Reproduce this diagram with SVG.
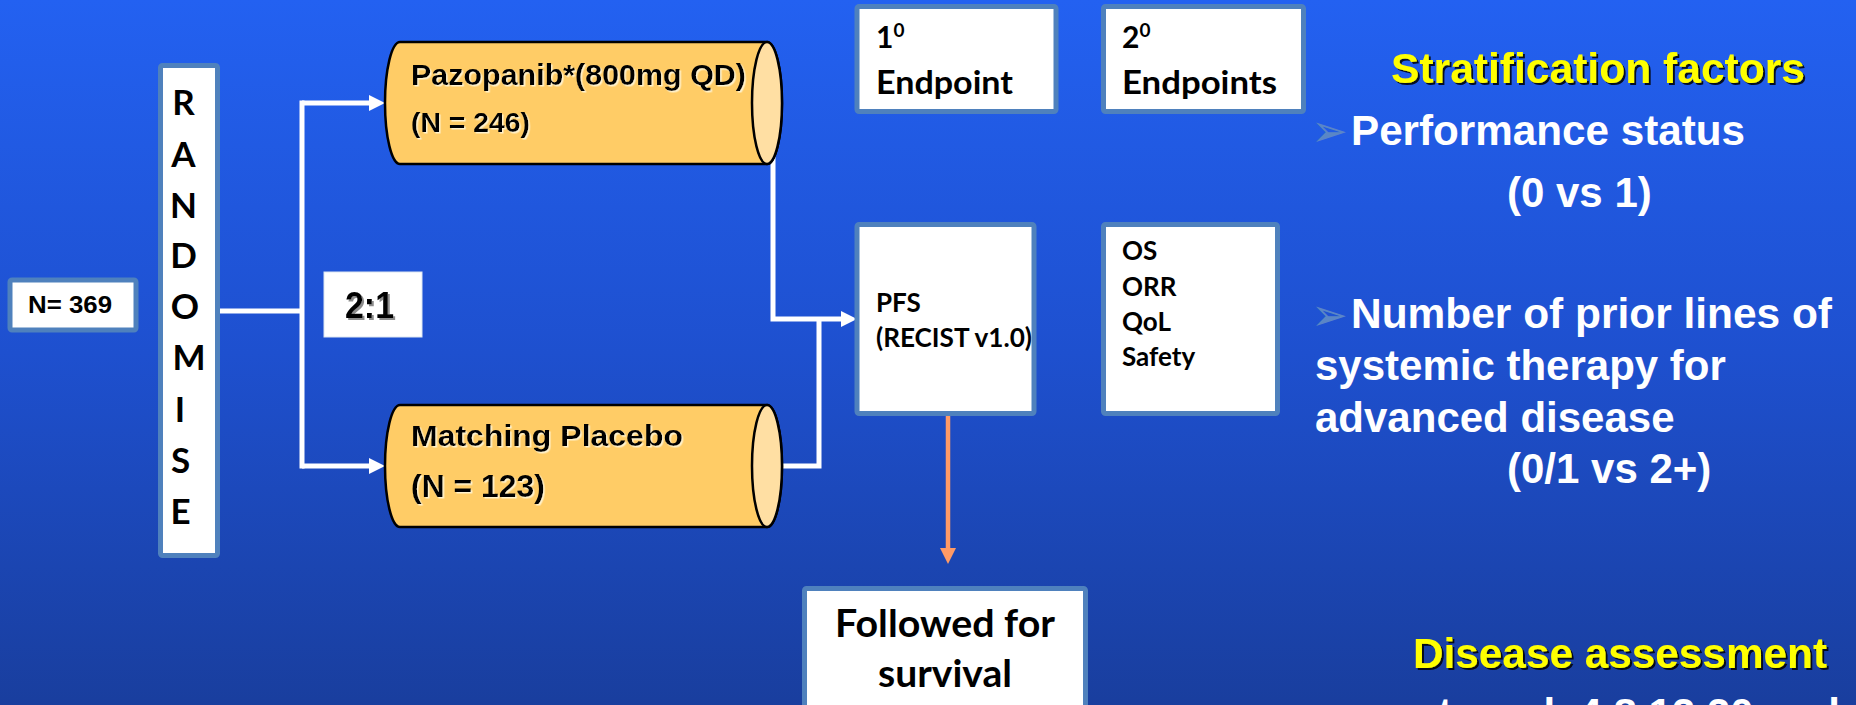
<svg xmlns="http://www.w3.org/2000/svg" width="1856" height="705" viewBox="0 0 1856 705">
<defs>
<linearGradient id="bg" x1="0" y1="0" x2="0" y2="1">
<stop offset="0" stop-color="#2361F1"/>
<stop offset="0.5" stop-color="#1E50CF"/>
<stop offset="1" stop-color="#193E9E"/>
</linearGradient>
<filter id="lightSh" x="-5%" y="-20%" width="110%" height="140%">
<feDropShadow dx="1.5" dy="1.5" stdDeviation="0.4" flood-color="#FFF6D8" flood-opacity="0.9"/>
</filter>
<filter id="darkSh" x="-5%" y="-20%" width="110%" height="140%">
<feDropShadow dx="2" dy="2" stdDeviation="0.6" flood-color="#000" flood-opacity="0.85"/>
</filter>
<filter id="graySh" x="-10%" y="-20%" width="120%" height="140%">
<feDropShadow dx="2" dy="2" stdDeviation="0.5" flood-color="#808080" flood-opacity="0.9"/>
</filter>
<marker id="wArrow" markerUnits="userSpaceOnUse" markerWidth="16" markerHeight="16" refX="0" refY="8" orient="auto">
<path d="M0,0 L16,8 L0,16 Z" fill="#FFFFFF"/>
</marker>
<marker id="oArrow" markerUnits="userSpaceOnUse" markerWidth="16" markerHeight="16" refX="0" refY="8" orient="auto">
<path d="M0,0 L16,8 L0,16 Z" fill="#FF9A66"/>
</marker>
</defs>
<style>
.box{fill:#FFFFFF;stroke:#4F81BD;stroke-width:5}
.cyl{fill:#FFCC66;stroke:#000;stroke-width:2.5}
.cap{fill:#FFDFA3;stroke:#000;stroke-width:2.5}
.cal{font-family:Lato,"Open Sans","DejaVu Sans",sans-serif;font-weight:bold;fill:#000}
.ari{font-family:"Liberation Sans",Arial,sans-serif;font-weight:bold}
.wt{fill:#FFFFFF;font-size:42px}
.yt{fill:#FFFF00;font-size:42px;filter:url(#darkSh)}
.bul{font-family:"DejaVu Sans",sans-serif;font-weight:normal;fill:#5A86C6;font-size:44px}
.conn{fill:none;stroke:#FFFFFF;stroke-width:5}
</style>
<rect x="0" y="0" width="1856" height="705" fill="url(#bg)"/>

<g id="connectors">
<path class="conn" d="M219,311 H302"/>
<path class="conn" d="M302,100.5 V468.5"/>
<path class="conn" d="M302,103 H369" marker-end="url(#wArrow)"/>
<path class="conn" d="M302,466 H369" marker-end="url(#wArrow)"/>
<path class="conn" d="M773,125 V319 H841" stroke-linejoin="miter" marker-end="url(#wArrow)"/>
<path class="conn" d="M782,466 H819 V319" stroke-linejoin="miter"/>
<path d="M948,416 V548" fill="none" stroke="#FF9A66" stroke-width="4.5" marker-end="url(#oArrow)"/>
</g>

<g id="n369">
<rect class="box" x="10" y="280" width="126" height="50" rx="2"/>
<text class="ari" x="28" y="313" font-size="24" fill="#000" textLength="84" lengthAdjust="spacingAndGlyphs">N= 369</text>
</g>

<g id="randomise">
<rect class="box" x="160.5" y="65.5" width="57" height="490" rx="2"/>
<g class="cal" font-size="35" text-anchor="middle">
<text x="183.5" y="115">R</text>
<text x="183.5" y="167">A</text>
<text x="183.5" y="218">N</text>
<text x="183.5" y="268">D</text>
<text x="185" y="319">O</text>
<text x="189" y="370">M</text>
<text x="180" y="422">I</text>
<text x="180.5" y="473">S</text>
<text x="180.5" y="524">E</text>
</g>
</g>

<g id="ratio">
<rect x="324" y="272" width="98" height="65" fill="#FFFFFF" stroke="#DCE6F2" stroke-width="1"/>
<text class="ari" x="345" y="318" font-size="36" fill="#000" filter="url(#graySh)" textLength="49" lengthAdjust="spacingAndGlyphs">2:1</text>
</g>

<g id="pazopanib">
<path class="cyl" d="M400,42 H767 A15,61 0 0 1 767,164 H400 A15,61 0 0 1 400,42 Z"/>
<ellipse class="cap" cx="767" cy="103" rx="15" ry="61"/>
<text class="ari" x="411" y="85" font-size="29" fill="#000" filter="url(#lightSh)" textLength="335" lengthAdjust="spacingAndGlyphs">Pazopanib*(800mg QD)</text>
<text class="ari" x="411" y="132" font-size="27" fill="#000" filter="url(#lightSh)" textLength="119" lengthAdjust="spacingAndGlyphs">(N = 246)</text>
</g>

<g id="placebo">
<path class="cyl" d="M400,405 H767 A15,61 0 0 1 767,527 H400 A15,61 0 0 1 400,405 Z"/>
<ellipse class="cap" cx="767" cy="466" rx="15" ry="61"/>
<text class="ari" x="411" y="446" font-size="30" fill="#000" filter="url(#lightSh)" textLength="272" lengthAdjust="spacingAndGlyphs">Matching Placebo</text>
<text class="ari" x="411" y="497" font-size="31" fill="#000" filter="url(#lightSh)" textLength="134" lengthAdjust="spacingAndGlyphs">(N = 123)</text>
</g>

<g id="primary-endpoint">
<rect class="box" x="857" y="6.5" width="199" height="105" rx="2"/>
<text class="cal" x="876" y="48" font-size="30">1<tspan font-size="19" dy="-11">0</tspan></text>
<text class="cal" x="876" y="94" font-size="32" textLength="137" lengthAdjust="spacingAndGlyphs">Endpoint</text>
</g>

<g id="secondary-endpoints">
<rect class="box" x="1103.5" y="6.5" width="200" height="105" rx="2"/>
<text class="cal" x="1122" y="48" font-size="30">2<tspan font-size="19" dy="-11">0</tspan></text>
<text class="cal" x="1122" y="94" font-size="32" textLength="155" lengthAdjust="spacingAndGlyphs">Endpoints</text>
</g>

<g id="pfs">
<rect class="box" x="857" y="224.5" width="177" height="189" rx="2"/>
<text class="cal" x="876" y="312" font-size="26">PFS</text>
<text class="cal" x="876" y="347" font-size="26" textLength="156" lengthAdjust="spacingAndGlyphs">(RECIST v1.0)</text>
</g>

<g id="secondary-list">
<rect class="box" x="1103.5" y="224.5" width="174" height="189" rx="2"/>
<text class="cal" x="1122" y="260" font-size="26">OS</text>
<text class="cal" x="1122" y="296" font-size="26">ORR</text>
<text class="cal" x="1122" y="331" font-size="26">QoL</text>
<text class="cal" x="1122" y="366" font-size="26">Safety</text>
</g>

<g id="survival">
<rect class="box" x="804.5" y="588.5" width="281" height="140" rx="2"/>
<text class="cal" x="945" y="637" font-size="38" text-anchor="middle" textLength="220" lengthAdjust="spacingAndGlyphs">Followed for</text>
<text class="cal" x="945" y="687" font-size="38" text-anchor="middle" textLength="134" lengthAdjust="spacingAndGlyphs">survival</text>
</g>

<g id="stratification">
<text class="ari yt" x="1391" y="83" font-size="41" textLength="414" lengthAdjust="spacingAndGlyphs">Stratification factors</text>
<text class="ari wt"><tspan class="bul" x="1311" y="146">➢</tspan><tspan x="1351" y="145" textLength="394" lengthAdjust="spacingAndGlyphs">Performance status</tspan></text>
<text class="ari wt" x="1507" y="207">(0 vs 1)</text>
<text class="ari wt"><tspan class="bul" x="1311" y="330">➢</tspan><tspan x="1351" y="328" textLength="481" lengthAdjust="spacingAndGlyphs">Number of prior lines of</tspan></text>
<text class="ari wt" x="1315" y="380">systemic therapy for</text>
<text class="ari wt" x="1315" y="432">advanced disease</text>
<text class="ari wt" x="1507" y="483">(0/1 vs 2+)</text>
</g>

<g id="assessment">
<text class="ari yt" x="1413" y="668" textLength="414" lengthAdjust="spacingAndGlyphs">Disease assessment</text>
<text class="ari wt" x="1415" y="728">at week 4,8,12,20 and</text>
</g>
</svg>
